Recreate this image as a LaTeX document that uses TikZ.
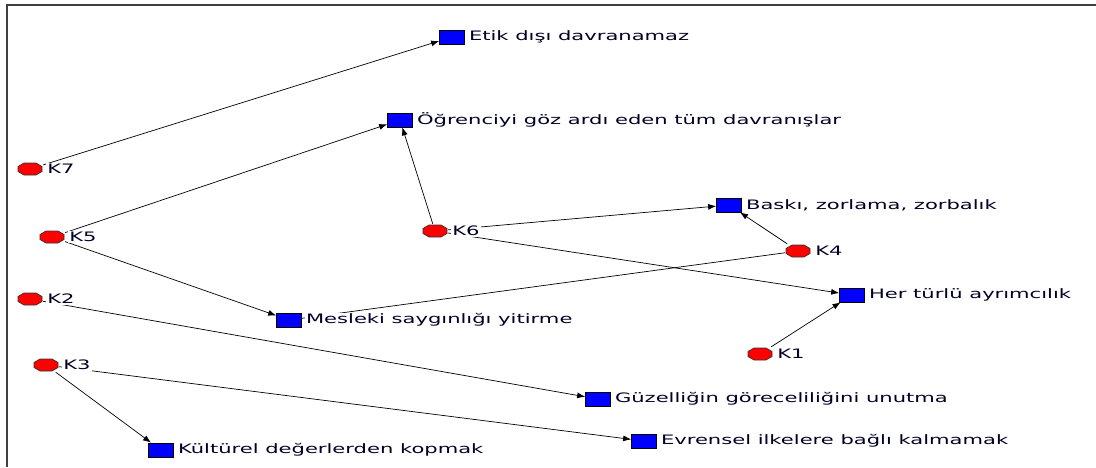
\documentclass[tikz,border=0pt]{standalone}
\usepackage{fontspec}
\setmainfont[FakeStretch=1.62]{DejaVu Sans}
\usetikzlibrary{positioning,arrows.meta,backgrounds}

\begin{document}
\begin{tikzpicture}[
x=1pt, y=-1pt,
node distance={3pt},
kisinode/.style={rectangle, minimum width=26pt, minimum height=14pt, inner sep=0pt,
  path picture={\draw[shift={(path picture bounding box.center)}, fill=red, draw=black!80, line width=0.7pt]
    (-12,-2.5) -- (-6,-6) -- (6,-6) -- (12,-2.5) -- (12,2.5) -- (6,6) -- (-6,6) -- (-12,2.5) -- cycle;}},
temanode/.style={rectangle, draw=black, fill=blue, line width=0.7pt, minimum width=25pt, minimum height=14pt, inner sep=0pt},
etiket/.style={fill=white, inner sep=1pt, text=black!85!blue, font=\fontsize{13}{15}\selectfont},
ok/.style={-{Latex[length=8pt,width=6pt]}, line width=0.7pt}
]
\useasboundingbox (0,0) rectangle (1096,467);
\draw[line width=2pt, black!75] (1096,5) -- (7,5) -- (7,467);

% temalar
\node[temanode] (etik) at (452,37) {};
\node[etiket, right=of etik] (etikL) {Etik dışı davranamaz};
\node[temanode] (ogrenci) at (400,120) {};
\node[etiket, right=of ogrenci] (ogrenciL) {Öğrenciyi göz ardı eden tüm davranışlar};
\node[temanode] (baski) at (729,205) {};
\node[etiket, right=of baski] (baskiL) {Baskı, zorlama, zorbalık};
\node[temanode] (ayrim) at (852,295) {};
\node[etiket, right=of ayrim] (ayrimL) {Her türlü ayrımcılık};
\node[temanode] (meslek) at (289,320) {};
\node[etiket, right=of meslek] (meslekL) {Mesleki saygınlığı yitirme};
\node[temanode] (guzel) at (598,399) {};
\node[etiket, right=of guzel] (guzelL) {Güzelliğin göreceliliğini unutma};
\node[temanode] (evrensel) at (644,441) {};
\node[etiket, right=of evrensel] (evrenselL) {Evrensel ilkelere bağlı kalmamak};
\node[temanode] (kultur) at (161,450) {};
\node[etiket, right=of kultur] (kulturL) {Kültürel değerlerden kopmak};

% katilimcilar
\node[kisinode] (K7) at (30,169) {};
\node[etiket, right=of K7] (K7L) {K7};
\node[kisinode] (K5) at (52,237) {};
\node[etiket, right=of K5] (K5L) {K5};
\node[kisinode] (K2) at (30,299) {};
\node[etiket, right=of K2] (K2L) {K2};
\node[kisinode] (K3) at (46,365) {};
\node[etiket, right=of K3] (K3L) {K3};
\node[kisinode] (K6) at (435,231) {};
\node[etiket, right=of K6] (K6L) {K6};
\node[kisinode] (K4) at (798,251) {};
\node[etiket, right=of K4] (K4L) {K4};
\node[kisinode] (K1) at (760,354) {};
\node[etiket, right=of K1] (K1L) {K1};

\begin{pgfonlayer}{background}
\draw[ok] (K7) -- (etik);

\draw[ok] (K5) -- (ogrenci);
\draw[ok] (K5) -- (meslek);

\draw[ok] (K6) -- (ogrenci);
\draw[ok] (K6) -- (baski);
\draw[ok] (K6) -- (ayrim);

\draw[ok] (K4) -- (baski);
\draw[line width=0.7pt] (K4) -- (meslek);

\draw[ok] (K1) -- (ayrim);

\draw[ok] (K2) -- (guzel);

\draw[ok] (K3) -- (kultur);
\draw[ok] (K3) -- (evrensel);
\end{pgfonlayer}
\end{tikzpicture}
\end{document}
